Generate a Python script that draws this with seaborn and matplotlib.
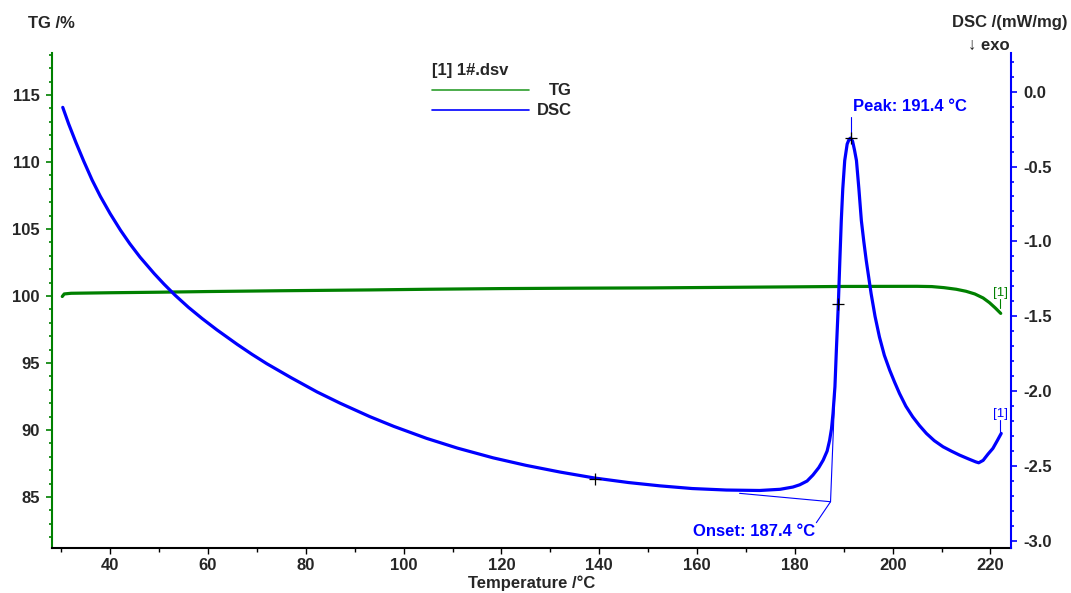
import numpy as np
import pandas as pd
import matplotlib
matplotlib.use("Agg")
import matplotlib.pyplot as plt
from matplotlib.lines import Line2D
from matplotlib.ticker import MultipleLocator, FormatStrFormatter
import seaborn as sns

# ---------------- data ----------------
temp_tg = [30.2, 30.6, 32.0, 40.0, 50.0, 60.0, 75.0, 93.0, 105.0, 120.0, 135.0,
           150.0, 165.0, 180.0, 190.0, 205.0, 208.0, 210.5, 213.0, 215.0, 216.8,
           218.5, 219.8, 221.0, 222.1]
tg_values = [99.96, 100.15, 100.2, 100.24, 100.28, 100.33, 100.39, 100.45, 100.5,
             100.55, 100.58, 100.6, 100.64, 100.68, 100.71, 100.72, 100.7, 100.62,
             100.5, 100.35, 100.15, 99.85, 99.5, 99.1, 98.7]

temp_dsc = [30.3, 31.5, 33.0, 34.6, 36.3, 38.0, 40.0, 42.1, 44.0, 46.1, 49.0, 51.0,
            53.3, 56.0, 58.8, 61.8, 66.0, 69.0, 72.0, 77.0, 82.3, 87.0, 93.1, 98.0,
            104.7, 111.0, 118.3, 125.0, 132.0, 139.1, 146.0, 152.4, 159.0, 166.0,
            172.8, 177.0, 179.6, 181.0, 182.5, 183.7, 184.9, 185.8, 186.6, 187.1,
            187.5, 187.8, 188.2, 188.5, 188.9, 189.2, 189.5, 189.8, 190.2, 190.7,
            191.1, 191.4, 191.8, 192.2, 192.6, 193.1, 193.6, 194.1, 194.6, 195.6,
            196.4, 197.3, 198.3, 199.4, 200.4, 201.4, 202.7, 204.1, 205.5, 206.9,
            208.5, 210.3, 212.0, 213.7, 215.5, 217.0, 217.6, 218.5, 219.5, 220.5,
            221.4, 222.2]
dsc_values = [-0.105, -0.215, -0.34, -0.465, -0.59, -0.70, -0.815, -0.925, -1.015,
              -1.105, -1.215, -1.285, -1.36, -1.44, -1.515, -1.59, -1.688, -1.754,
              -1.816, -1.91, -2.005, -2.08, -2.17, -2.235, -2.315, -2.38, -2.445,
              -2.495, -2.54, -2.58, -2.61, -2.632, -2.65, -2.66, -2.663, -2.655,
              -2.64, -2.625, -2.60, -2.56, -2.51, -2.46, -2.40, -2.33, -2.25, -2.15,
              -1.97, -1.72, -1.415, -1.13, -0.86, -0.65, -0.46, -0.35, -0.318, -0.31,
              -0.33, -0.39, -0.46, -0.65, -0.86, -1.0, -1.127, -1.349, -1.50, -1.638,
              -1.76, -1.86, -1.94, -2.015, -2.10, -2.171, -2.23, -2.282, -2.33,
              -2.371, -2.40, -2.427, -2.452, -2.472, -2.478, -2.462, -2.42, -2.382,
              -2.33, -2.282]

x_ticks = [40, 60, 80, 100, 120, 140, 160, 180, 200, 220]
tg_ticks = [85, 90, 95, 100, 105, 110, 115]
dsc_ticks = [0.0, -0.5, -1.0, -1.5, -2.0, -2.5, -3.0]

peak_temp, peak_dsc = 191.4, -0.31
inflect_temp, inflect_dsc = 188.9, -1.415
marker_temp, marker_dsc = 139.1, -2.585
onset_temp, onset_dsc = 187.3, -2.738
baseline_start_temp, baseline_start_dsc = 168.7, -2.682

GREEN = "#008000"
BLUE = "#0000FF"

sns.set_theme(style="white")
plt.rcParams["font.family"] = ["Liberation Sans", "DejaVu Sans"]
plt.rcParams["axes.unicode_minus"] = False

W, H = 1071, 593
fig = plt.figure(figsize=(W / 100, H / 100), dpi=100)
ax = fig.add_axes([52 / W, 1 - 548.3 / H, (1010.5 - 52) / W, (548.3 - 53) / H])
ax2 = ax.twinx()

df_tg = pd.DataFrame({"T": temp_tg, "TG": tg_values})
df_dsc = pd.DataFrame({"T": temp_dsc, "DSC": dsc_values})
sns.lineplot(data=df_tg, x="T", y="TG", ax=ax, color=GREEN, lw=2.3,
             estimator=None, sort=False, solid_capstyle="round")
sns.lineplot(data=df_dsc, x="T", y="DSC", ax=ax2, color=BLUE, lw=2.3,
             estimator=None, sort=False, solid_capstyle="round",
             solid_joinstyle="round")

ax.set_xlim(28.1, 224.1)
ax.set_ylim(81.17, 118.13)
ax2.set_ylim(-3.049, 0.258)

ax.set_xticks(x_ticks)
ax.xaxis.set_minor_locator(MultipleLocator(10))
ax.set_yticks(tg_ticks)
ax.yaxis.set_minor_locator(MultipleLocator(1))
ax2.set_yticks(dsc_ticks)
ax2.yaxis.set_minor_locator(MultipleLocator(0.1))
ax2.yaxis.set_major_formatter(FormatStrFormatter("%.1f"))

ax.set_ylabel("")
ax2.set_ylabel("")
ax.set_xlabel("Temperature /°C", fontsize=12, fontweight="bold", labelpad=2)

for lab in ax.get_xticklabels() + ax.get_yticklabels() + ax2.get_yticklabels():
    lab.set_fontweight("bold")

ax.tick_params(axis="x", which="both", bottom=True, direction="out", color="black",
               labelsize=12, pad=3, width=1)
ax.tick_params(axis="x", which="major", length=4)
ax.tick_params(axis="x", which="minor", length=3)
ax.tick_params(axis="y", which="both", left=True, right=False, direction="out",
               color=GREEN, labelsize=12, pad=5, width=1.2)
ax.tick_params(axis="y", which="major", length=4)
ax.tick_params(axis="y", which="minor", length=2)
ax2.tick_params(axis="y", which="both", right=True, left=False, direction="out",
                color=BLUE, labelsize=12, pad=5, width=1.2)
ax2.tick_params(axis="y", which="major", length=4)
ax2.tick_params(axis="y", which="minor", length=2)

for a in (ax, ax2):
    a.spines["top"].set_visible(False)
    a.grid(False)
ax.spines["right"].set_visible(False)
ax.spines["left"].set_color(GREEN)
ax.spines["left"].set_linewidth(1.5)
ax.spines["bottom"].set_color("black")
ax.spines["bottom"].set_linewidth(1.5)
ax2.spines["left"].set_visible(False)
ax2.spines["bottom"].set_visible(False)
ax2.spines["right"].set_color(BLUE)
ax2.spines["right"].set_linewidth(1.5)
ax.patch.set_visible(False)

# markers
ax2.plot([peak_temp, inflect_temp, marker_temp], [peak_dsc, inflect_dsc, marker_dsc],
         linestyle="none", marker="+", color="black", markersize=9, mew=0.9, zorder=5)

# peak annotation
ax2.plot([peak_temp, peak_temp], [peak_dsc, peak_dsc + 0.14], color=BLUE, lw=0.8)
ax2.text(peak_temp + 0.5, peak_dsc + 0.21, f"Peak: {peak_temp} °C", color=BLUE,
         fontsize=12, fontweight="bold", ha="left", va="center")

# onset construction
ax2.plot([baseline_start_temp, onset_temp], [baseline_start_dsc, onset_dsc],
         color=BLUE, lw=0.8)
ax2.plot([onset_temp, inflect_temp], [onset_dsc, inflect_dsc], color=BLUE, lw=0.8)
ax2.plot([onset_temp, onset_temp - 2.9], [onset_dsc, onset_dsc - 0.14], color=BLUE, lw=0.8)
ax2.text(onset_temp - 3.1, onset_dsc - 0.196, "Onset: 187.4 °C", color=BLUE,
         fontsize=12, fontweight="bold", ha="right", va="center")

# curve end tags
ax.text(222.0, 100.22, "[1]", color=GREEN, fontsize=9.5, ha="center", va="center")
ax.plot([222.0, 222.0], [99.75, 99.1], color=GREEN, lw=0.8)
ax2.text(222.0, -2.155, "[1]", color=BLUE, fontsize=9.5, ha="center", va="center")
ax2.plot([222.0, 222.0], [-2.19, -2.27], color=BLUE, lw=0.8)

# axis titles
fig.text(51 / W, 1 - 23 / H, "TG /%", fontsize=12, fontweight="bold",
         ha="center", va="center")
fig.text(1068 / W, 1 - 23 / H, "DSC /(mW/mg)", fontsize=12, fontweight="bold",
         ha="right", va="center")
fig.text(1010 / W, 1 - 45 / H, "↓ exo", fontsize=12, fontweight="bold",
         ha="right", va="center")

# legend
fig.text(432 / W, 1 - 71 / H, "[1] 1#.dsv", fontsize=12, fontweight="bold",
         ha="left", va="center")
fig.add_artist(Line2D([432 / W, 529 / W], [1 - 90 / H] * 2, color="#2e9e2e", lw=1.2))
fig.add_artist(Line2D([432 / W, 529 / W], [1 - 110 / H] * 2, color=BLUE, lw=1.2))
fig.text(572 / W, 1 - 90.5 / H, "TG", fontsize=12, fontweight="bold",
         ha="right", va="center")
fig.text(572 / W, 1 - 110.5 / H, "DSC", fontsize=12, fontweight="bold",
         ha="right", va="center")

fig.savefig("out.png", dpi=100)
